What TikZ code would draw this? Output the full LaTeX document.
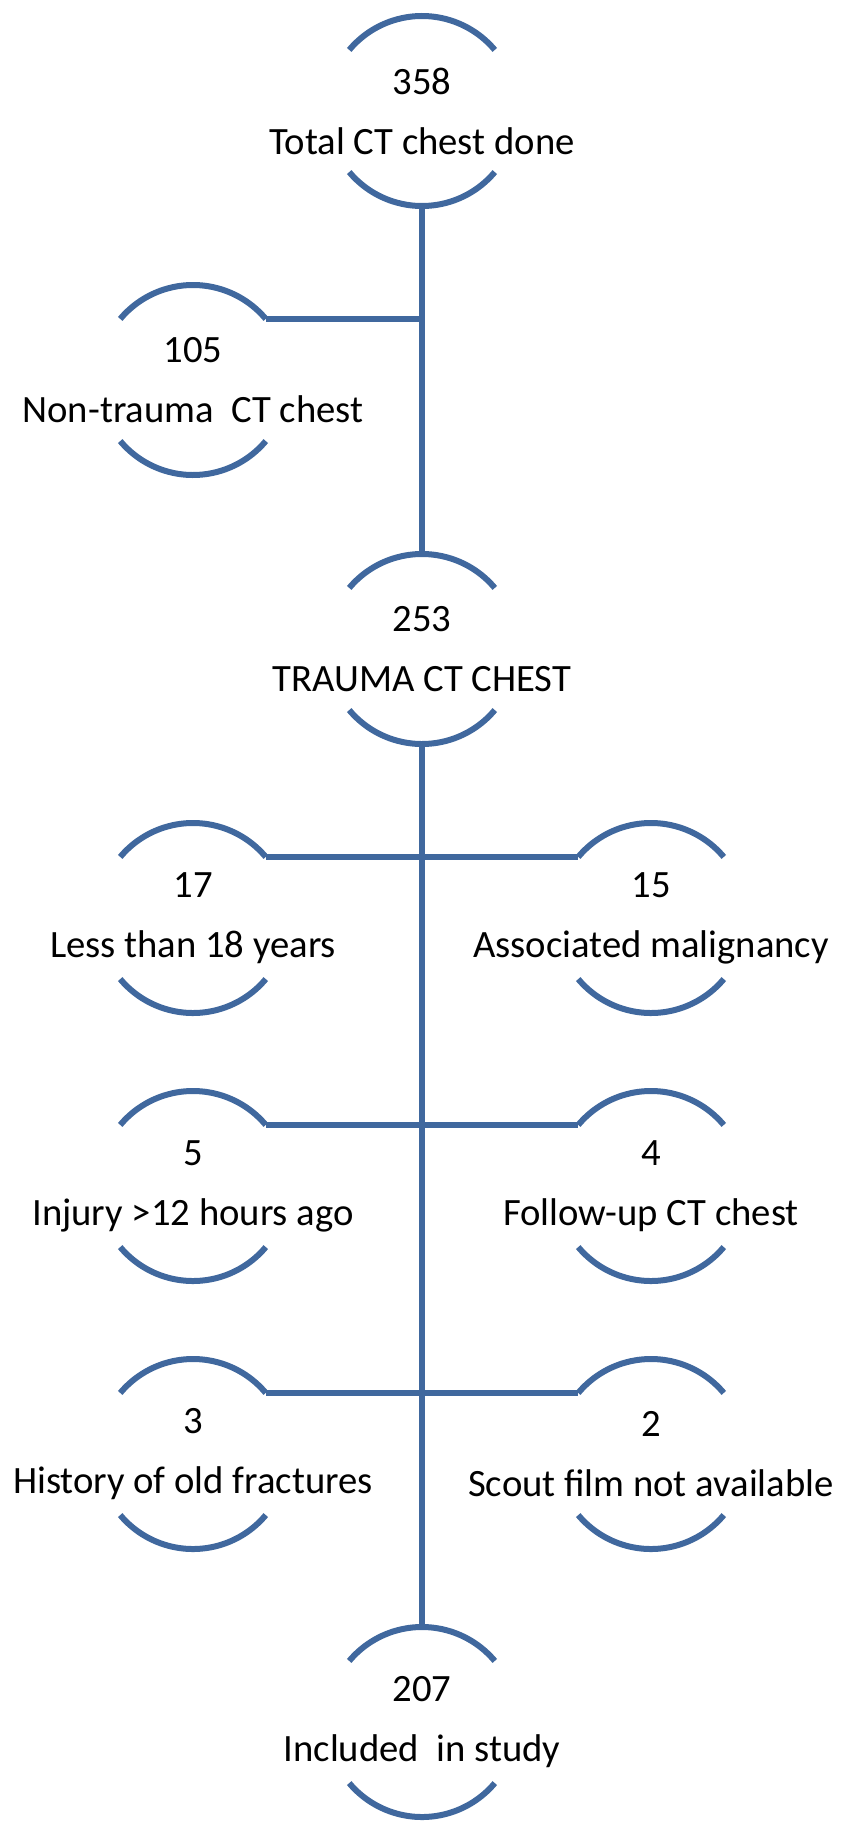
\documentclass[tikz,border=0pt]{standalone}
\usepackage{fontspec}
\setmainfont{Carlito}
\usetikzlibrary{calc}
\definecolor{linkblue}{RGB}{64,104,158}

\begin{document}
\begin{tikzpicture}[x=0.75pt,y=0.75pt,
    stage/.style={align=center, inner sep=0pt, font=\fontsize{29}{45}\selectfont},
    link/.style={draw=linkblue, line width=4.5pt}]
    % Define radius of the bracket arcs
    \def\rad{95}

    % Fix the page size
    \useasboundingbox (0,0) rectangle (840,-1823);

    % Place stages on the main line
    \node[stage] (total) at (422,-111) {358\\Total CT chest done};
    \node[stage] (trauma) at (422,-649) {253\\TRAUMA CT CHEST};
    \node[stage] (included) at (422,-1722) {207\\Included\ \ in study};

    % Place excluded groups
    \node[stage] (nontrauma) at (193,-380) {105\\Non-trauma\ \ CT chest};
    \node[stage] (age) at (193,-918) {17\\Less than 18 years};
    \node[stage] (malig) at (651,-918) {15\\Associated malignancy};
    \node[stage] (late) at (193,-1186) {5\\Injury >12 hours ago};
    \node[stage] (followup) at (651,-1186) {4\\Follow-up CT chest};
    \node[stage] (oldfx) at (193,-1454) {3\\History of old fractures};
    \node[stage] (scout) at (651,-1454) {2\\Scout film not available};

    % Draw bracket arcs around each stage
    \foreach \n in {total,trauma,included,nontrauma,age,malig,late,followup,oldfx,scout} {
        \coordinate (\n-top) at ($(\n)+(90:\rad)$);
        \coordinate (\n-bot) at ($(\n)+(-90:\rad)$);
        \coordinate (\n-ne) at ($(\n)+(40:\rad)$);
        \coordinate (\n-nw) at ($(\n)+(140:\rad)$);
        \draw[link] (\n-ne) arc[start angle=40, end angle=140, radius=\rad];
        \draw[link] ($(\n)+(-40:\rad)$) arc[start angle=-40, end angle=-140, radius=\rad];
    }

    % Draw main line
    \draw[link] (total-bot) -- (trauma-top);
    \draw[link] (trauma-bot) -- (included-top);

    % Draw branches
    \draw[link] (nontrauma-ne) -- (total-bot |- nontrauma-ne);
    \draw[link] (age-ne) -- (malig-nw);
    \draw[link] (late-ne) -- (followup-nw);
    \draw[link] (oldfx-ne) -- (scout-nw);

\end{tikzpicture}
\end{document}
